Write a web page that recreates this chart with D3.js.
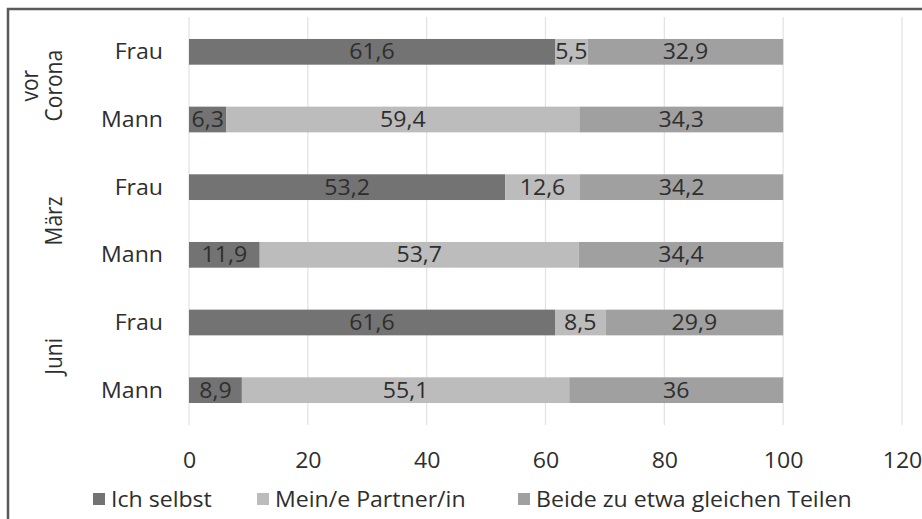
<!DOCTYPE html>
<html>
<head>
<meta charset="utf-8">
<script src="https://cdn.jsdelivr.net/npm/d3@7"></script>
<style>
  html, body { margin: 0; padding: 0; background: #fff; overflow: hidden; }
  svg { display: block; font-family: "Open Sans", sans-serif; }
</style>
</head>
<body>
<main></main>
<script>
'use strict';

// data
const groups = ["vor Corona", "März", "Juni"];
const rows = ["Frau", "Mann"];
const series = ["Ich selbst", "Mein/e Partner/in", "Beide zu etwa gleichen Teilen"];
const ichSelbst = [61.6, 6.3, 53.2, 11.9, 61.6, 8.9];
const partner = [5.5, 59.4, 12.6, 53.7, 8.5, 55.1];
const beide = [32.9, 34.3, 34.2, 34.4, 29.9, 36];
const xTicks = [0, 20, 40, 60, 80, 100, 120];

const colors = ["#737373", "#bcbcbc", "#a0a0a0"];

const W = 922, H = 519;
const plot = {left: 189, right: 902, top: 17, bottom: 425};
const FONT_SIZE = '21px';
const STRETCH = 1.1; // the source text is slightly wider than Open Sans
const TEXT_COLOR = '#2e2e2e';

const svg = d3.select('main')
  .append('svg')
  .attr('width', W)
  .attr('height', H);

svg.append('rect')
  .attr('width', W)
  .attr('height', H)
  .attr('fill', '#fff');

// outer frame: only top and left edges are inside the picture
svg.append('path')
  .attr('d', 'M8,' + (H + 5) + 'V9H' + (W + 5))
  .attr('fill', 'none')
  .attr('stroke', '#5a5a5a')
  .attr('stroke-width', 2.5);

const table = groups.flatMap((g, gi) => rows.map((r, ri) => {
  const i = gi * 2 + ri;
  return {key: g + '|' + r, group: g, row: r,
    [series[0]]: ichSelbst[i], [series[1]]: partner[i], [series[2]]: beide[i]};
}));

const x = d3.scaleLinear().domain([0, 120]).range([plot.left, plot.right]);
const y = d3.scaleBand()
  .domain(table.map(d => d.key))
  .range([18, 424])
  .paddingInner(0.62)
  .paddingOuter(0.31);

// put a text at (px, py), stretched horizontally around its anchor
const place = (px, py) => 'translate(' + px + ',' + py + ') scale(' + STRETCH + ',1)';

// gridlines
svg.append('g')
  .selectAll('line')
  .data(xTicks)
  .enter()
  .append('line')
  .attr('x1', d => x(d))
  .attr('x2', d => x(d))
  .attr('y1', plot.top)
  .attr('y2', plot.bottom)
  .attr('stroke', '#e2e2e2')
  .attr('stroke-width', 1.2);

// x axis labels
const xAxis = svg.append('g')
  .attr('transform', 'translate(0,' + 453 + ')')
  .call(d3.axisBottom(x).tickValues(xTicks).tickSize(0).tickPadding(0));
xAxis.select('.domain').remove();
xAxis.selectAll('text')
  .attr('y', 0)
  .attr('dy', '0.71em')
  .attr('transform', 'scale(' + STRETCH + ',1)')
  .style('font-size', FONT_SIZE)
  .style('font-family', '"Open Sans", sans-serif')
  .attr('fill', TEXT_COLOR);

// stacked bars
const stack = d3.stack().keys(series);
const layers = stack(table);

const layer = svg.append('g')
  .selectAll('g')
  .data(layers)
  .enter()
  .append('g')
  .attr('fill', (d, i) => colors[i]);

layer.selectAll('rect')
  .data(d => d)
  .enter()
  .append('rect')
  .attr('x', d => x(d[0]))
  .attr('y', d => y(d.data.key))
  .attr('width', d => x(d[1]) - x(d[0]))
  .attr('height', y.bandwidth());

layer.selectAll('text')
  .data(d => d)
  .enter()
  .append('text')
  .attr('transform', d => place((x(d[0]) + x(d[1])) / 2, y(d.data.key) + y.bandwidth() / 2))
  .attr('dy', '0.36em')
  .attr('text-anchor', 'middle')
  .attr('fill', TEXT_COLOR)
  .style('font-size', FONT_SIZE)
  .text(d => String(+(d[1] - d[0]).toFixed(1)).replace('.', ','));

// row labels
svg.append('g')
  .selectAll('text')
  .data(table)
  .enter()
  .append('text')
  .attr('transform', d => place(163, y(d.key) + y.bandwidth() / 2))
  .attr('dy', '0.36em')
  .attr('text-anchor', 'end')
  .attr('fill', TEXT_COLOR)
  .style('font-size', FONT_SIZE)
  .text(d => d.row);

// group labels (rotated)
const groupLabel = svg.append('g')
  .selectAll('text')
  .data(groups)
  .enter()
  .append('text')
  .attr('transform', g => {
    const cy = (y(g + '|Frau') + y(g + '|Mann') + y.bandwidth()) / 2;
    return 'translate(62,' + cy + ') rotate(-90) scale(1,' + STRETCH + ')';
  })
  .attr('text-anchor', 'middle')
  .attr('fill', TEXT_COLOR)
  .style('font-size', FONT_SIZE);

groupLabel.each(function (g) {
  const words = g.split(' ');
  const t = d3.select(this);
  words.forEach((w, i) => {
    t.append('tspan')
      .attr('x', 0)
      .attr('dy', i === 0 ? (-(words.length - 1) * 22) + 'px' : '22px')
      .text(w);
  });
});

// legend
const legendX = [93, 257, 518];
const legend = svg.append('g')
  .selectAll('g')
  .data(series)
  .enter()
  .append('g')
  .attr('transform', (d, i) => 'translate(' + legendX[i] + ',' + 493 + ')');

legend.append('rect')
  .attr('width', 12)
  .attr('height', 12)
  .attr('fill', (d, i) => colors[i]);

legend.append('text')
  .attr('transform', place(18, 6))
  .attr('dy', '0.36em')
  .attr('fill', TEXT_COLOR)
  .style('font-size', FONT_SIZE)
  .text(d => d);
</script>
</body>
</html>
